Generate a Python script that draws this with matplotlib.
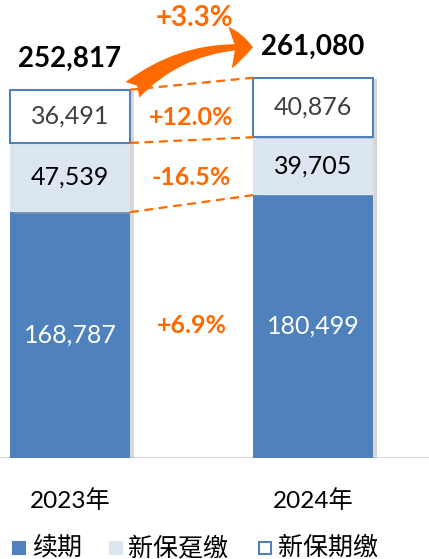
import matplotlib
matplotlib.use("Agg")
import matplotlib.pyplot as plt
from matplotlib.patches import FancyArrowPatch, Rectangle
from matplotlib import patheffects as pe

plt.rcParams['font.family'] = ['Lato', 'Noto Sans CJK SC', 'DejaVu Sans']

years = ["2023年", "2024年"]
renewal = [168787, 180499]        # 续期
single = [47539, 39705]           # 新保趸缴
regular = [36491, 40876]          # 新保期缴
totals = [252817, 261080]
seg_changes = ["+6.9%", "-16.5%", "+12.0%"]
total_change = "+3.3%"
series_names = ["续期", "新保趸缴", "新保期缴"]

BLUE = "#4F81BD"
LIGHT = "#DCE6F1"
ORANGE = "#FF6A00"

W, H = 429, 559
PX = 0.0014565  # pixels per unit
fig = plt.figure(figsize=(W / 100, H / 100), dpi=100)
ax = fig.add_axes([0, (H - 458) / H, 1, 458 / H])
ax.set_xlim(-70 / 243, 1 + 116 / 243)
ax.set_ylim(0, 458 / PX)
ax.axis("off")
ax.axhline(0, color="#D9D9D9", lw=1.5, zorder=1)

x = [0, 1]
bw = 120 / 243
shadow = [pe.SimplePatchShadow(offset=(3, -1), shadow_rgbFace="#AAAAAA", alpha=0.45), pe.Normal()]
ax.bar(x, renewal, bw, color=BLUE, zorder=3, path_effects=shadow)
ax.bar(x, single, bw, bottom=renewal, color=LIGHT, zorder=3, path_effects=shadow)
bottoms3 = [r + s for r, s in zip(renewal, single)]
ax.bar(x, regular, bw, bottom=bottoms3, color="white", edgecolor=BLUE, lw=1.5,
       zorder=3, path_effects=shadow)

for i in range(2):
    ax.text(x[i], renewal[i] / 2, f"{renewal[i]:,}", ha="center", va="center",
            color="white", fontsize=18, zorder=5)
    ax.text(x[i], renewal[i] + single[i] / 2, f"{single[i]:,}", ha="center", va="center",
            color="black", fontsize=18, zorder=5)
    ax.text(x[i], bottoms3[i] + regular[i] / 2, f"{regular[i]:,}", ha="center", va="center",
            color="#404040", fontsize=18, zorder=5)
    ax.text(x[i], totals[i] + 21500, f"{totals[i]:,}", ha="center", va="center",
            color="black", fontsize=20, fontweight="bold", zorder=5)
    ax.text(x[i], -29000, years[i], ha="center", va="center", fontsize=17.5,
            color="black", clip_on=False)

# dashed connectors
tops0 = [renewal[0], bottoms3[0], totals[0]]
tops1 = [renewal[1], bottoms3[1], totals[1]]
for a, b in zip(tops0, tops1):
    ax.plot([x[0] + bw / 2, x[1] - bw / 2], [a, b], color=ORANGE, ls=(0, (4, 2.5)),
            lw=1.6, zorder=4)

mid = 0.5
ax.text(mid, 91300, seg_changes[0], ha="center", va="center",
        color=ORANGE, fontsize=18, fontweight="bold")
ax.text(mid, 192900, seg_changes[1], ha="center", va="center",
        color=ORANGE, fontsize=18, fontweight="bold")
ax.text(mid, 234100, seg_changes[2], ha="center", va="center",
        color=ORANGE, fontsize=18, fontweight="bold")
ax.text(0.514, 302100, total_change, ha="center", va="center",
        color=ORANGE, fontsize=20, fontweight="bold")

arrow = FancyArrowPatch((x[0] + bw / 2 + 0.01, totals[0]),
                        (x[1] - bw / 2, 282000),
                        connectionstyle="arc3,rad=-0.2",
                        arrowstyle="fancy,head_length=0.55,head_width=1.0,tail_width=0.5",
                        mutation_scale=30, color=ORANGE, lw=0, zorder=6,
                        shrinkA=0, shrinkB=0)
ax.add_patch(arrow)

# legend (manual, in figure pixels)
def fx(px):
    return px / W

def fy(py):
    return 1 - py / H

leg_items = [(13, 32, BLUE, BLUE), (110, 128, LIGHT, LIGHT), (259, 278, "white", BLUE)]
for (sx, tx, fc, ec), name in zip(leg_items, series_names):
    fig.patches.append(Rectangle((fx(sx), fy(554)), 12 / W, 12 / H, transform=fig.transFigure,
                                 facecolor=fc, edgecolor=ec, lw=1.5))
    fig.text(fx(tx), fy(547), name, ha="left", va="center", fontsize=18, color="black")

fig.savefig("out.png", dpi=100)
